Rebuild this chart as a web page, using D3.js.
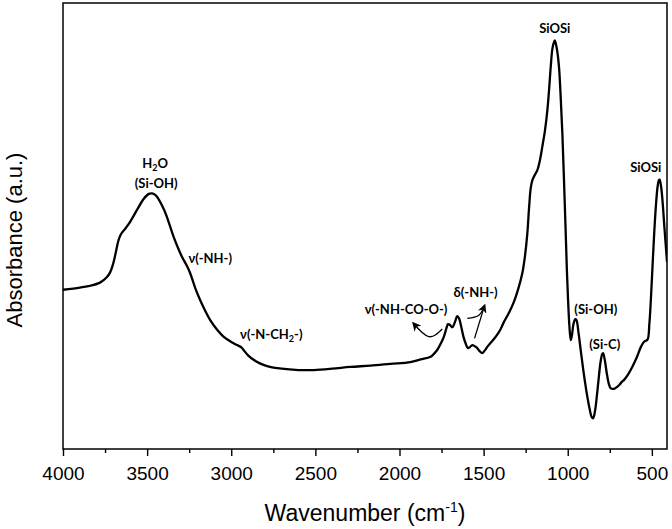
<!DOCTYPE html>
<html>
<head>
<meta charset="utf-8">
<script src="https://cdn.jsdelivr.net/npm/d3@7"></script>
<style>
  html, body { margin: 0; padding: 0; background: #fff; }
  svg { display: block; }
</style>
</head>
<body>
<svg id="chart" width="672" height="529"></svg>
<script>
// ---- data ----
const wavenumber = [4000,3900,3850,3780,3740,3720,3700,3685,3670,3655,3630,3600,3560,3522,3490,3470,3450,3433,3400,3383,3343,3310,3293,3260,3244,3215,3185,3155,3125,3085,3046,3000,2966,2940,2927,2900,2867,2830,2787,2700,2600,2510,2400,2292,2173,2054,1935,1875,1815,1776,1750,1736,1720,1712,1700,1686,1670,1657,1645,1633,1620,1607,1593,1580,1567,1555,1542,1525,1508,1495,1478,1458,1440,1420,1400,1379,1350,1320,1295,1270,1255,1240,1230,1220,1210,1195,1180,1165,1151,1135,1121,1110,1101,1090,1077,1065,1052,1042,1032,1022,1012,1005,998,990,982,975,966,955,948,935,923,905,887,870,858,849,838,828,819,805,795,790,780,768,755,744,725,704,690,680,665,640,615,590,565,545,526,515,506,496,486,476,466,458,454,445,437,425,410];
const absorbance = [0.357,0.362,0.365,0.373,0.385,0.396,0.418,0.443,0.468,0.482,0.494,0.510,0.536,0.560,0.572,0.573,0.569,0.561,0.537,0.521,0.476,0.445,0.431,0.408,0.394,0.362,0.334,0.310,0.289,0.268,0.252,0.240,0.233,0.228,0.222,0.210,0.200,0.192,0.186,0.180,0.177,0.177,0.180,0.184,0.187,0.191,0.195,0.201,0.207,0.222,0.240,0.252,0.272,0.280,0.278,0.273,0.285,0.298,0.292,0.274,0.252,0.237,0.226,0.229,0.233,0.231,0.228,0.220,0.215,0.220,0.229,0.238,0.246,0.256,0.268,0.285,0.305,0.330,0.358,0.394,0.430,0.484,0.540,0.585,0.603,0.615,0.626,0.648,0.678,0.715,0.760,0.810,0.857,0.900,0.916,0.898,0.857,0.790,0.708,0.600,0.484,0.400,0.334,0.275,0.244,0.255,0.280,0.291,0.289,0.258,0.222,0.170,0.125,0.090,0.072,0.069,0.085,0.115,0.147,0.195,0.213,0.215,0.200,0.170,0.145,0.136,0.135,0.140,0.145,0.150,0.155,0.168,0.185,0.205,0.229,0.241,0.245,0.280,0.334,0.410,0.484,0.545,0.588,0.603,0.604,0.588,0.558,0.495,0.420];

const majorTicks = [4000,3500,3000,2500,2000,1500,1000,500];
const minorTicks = [3750,3250,2750,2250,1750,1250,750];

const labelText = ["H2O","(Si-OH)","ν(-NH-)","ν(-N-CH2-)","ν(-NH-CO-O-)","δ(-NH-)","SiOSi","(Si-OH)","(Si-C)","SiOSi"];
const labelWn   = [3452,3446,3125,2762,1961,1548,1077,833,780,536];
const labelAbs  = [0.641,0.596,0.428,0.256,0.312,0.350,0.944,0.312,0.235,0.632];

const arrowNCO   = [[1746,0.269],[1826,0.252],[1918,0.282]];
const arrowNH_a  = [[1597,0.293],[1528,0.300],[1494,0.322]];
const arrowNH_b  = [[1554,0.248],[1494,0.322]];

const xTitle = "Wavenumber (cm";
const yTitle = "Absorbance (a.u.)";

// ---- layout ----
const W = 672, H = 529;
const m = {left: 63, right: 5, top: 3, bottom: 80};
const svg = d3.select("#chart");

const x = d3.scaleLinear().domain([4000, 410]).range([m.left, W - m.right]);
const y = d3.scaleLinear().domain([0, 1]).range([H - m.bottom, m.top]);

svg.append("defs").append("clipPath").attr("id","clip")
  .append("rect").attr("x", m.left).attr("y", m.top)
  .attr("width", x.range()[1]-m.left).attr("height", y(0)-m.top);

svg.select("defs").append("marker")
  .attr("id","head").attr("viewBox","0 0 10 10").attr("refX",8).attr("refY",5)
  .attr("markerWidth",7).attr("markerHeight",7).attr("orient","auto")
  .append("path").attr("d","M0,0 L10,5 L0,10 L3,5 Z").attr("fill","#000");

// minor ticks
svg.append("g").attr("transform",`translate(0,${y(0)})`)
  .call(d3.axisBottom(x).tickValues(minorTicks).tickSize(4).tickFormat(""))
  .call(g => g.select(".domain").remove())
  .call(g => g.selectAll("line").attr("stroke","#000").attr("stroke-width",1.4));

// major ticks
svg.append("g").attr("transform",`translate(0,${y(0)})`)
  .call(d3.axisBottom(x).tickValues(majorTicks).tickSize(7).tickPadding(11).tickFormat(d3.format("d")))
  .call(g => g.select(".domain").remove())
  .call(g => g.selectAll("line").attr("stroke","#000").attr("stroke-width",1.4))
  .call(g => g.selectAll("text").attr("fill","#000")
      .style("font-family","'Liberation Sans', Arial, sans-serif").style("font-size","19px"));

// frame
svg.append("rect").attr("x", m.left).attr("y", m.top)
  .attr("width", x.range()[1]-m.left).attr("height", y(0)-m.top)
  .attr("fill","none").attr("stroke","#000").attr("stroke-width",1.5);

// spectrum
const data = wavenumber.map((w,i) => [w, absorbance[i]]);
svg.append("path").datum(data)
  .attr("clip-path","url(#clip)")
  .attr("fill","none").attr("stroke","#000").attr("stroke-width",2.3)
  .attr("stroke-linejoin","round")
  .attr("d", d3.line().x(d => x(d[0])).y(d => y(d[1])).curve(d3.curveCatmullRom.alpha(0.5)));

// arrows
const aline = d3.line().x(d => x(d[0])).y(d => y(d[1])).curve(d3.curveNatural);
svg.append("path").datum(arrowNCO).attr("d", aline)
  .attr("fill","none").attr("stroke","#000").attr("stroke-width",1.3).attr("marker-end","url(#head)");
svg.append("path").datum(arrowNH_a).attr("d", aline)
  .attr("fill","none").attr("stroke","#000").attr("stroke-width",1.3).attr("marker-end","url(#head)");
svg.append("path").datum(arrowNH_b).attr("d", d3.line().x(d => x(d[0])).y(d => y(d[1])))
  .attr("fill","none").attr("stroke","#000").attr("stroke-width",1.3);

// peak labels
const lab = svg.append("g")
  .style("font-family","Lato, 'Open Sans', sans-serif").style("font-weight","700").style("font-size","13px");
labelText.forEach((t,i) => {
  const txt = lab.append("text").attr("x", x(labelWn[i])).attr("y", y(labelAbs[i]))
    .attr("dy","0.35em").attr("text-anchor","middle").attr("fill","#000");
  const idx = t.indexOf("2");
  if (idx >= 0) {
    txt.append("tspan").text(t.slice(0, idx));
    txt.append("tspan").text("2").attr("font-size","9px").attr("dy","3");
    txt.append("tspan").text(t.slice(idx+1)).attr("dy","-3");
  } else {
    txt.text(t);
  }
});

// axis titles
const xt = svg.append("text").attr("x", (m.left + x.range()[1]) / 2).attr("y", 521)
  .attr("text-anchor","middle").attr("fill","#000")
  .style("font-family","'Liberation Sans', Arial, sans-serif").style("font-size","23px");
xt.append("tspan").text(xTitle);
xt.append("tspan").text("-1").attr("font-size","14px").attr("dy","-9");
xt.append("tspan").text(")").attr("dy","9");

svg.append("text").attr("transform","translate(22,240) rotate(-90)")
  .attr("text-anchor","middle").attr("fill","#000")
  .style("font-family","'Liberation Sans', Arial, sans-serif").style("font-size","22px")
  .text(yTitle);
</script>
</body>
</html>
